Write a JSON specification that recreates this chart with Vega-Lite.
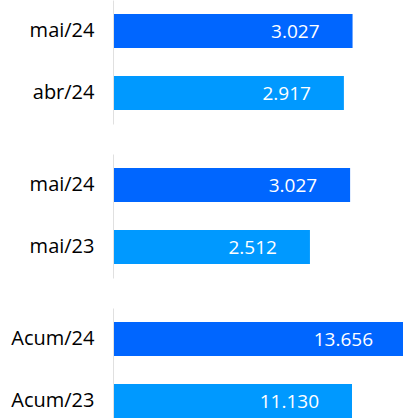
{
  "$schema": "https://vega.github.io/schema/vega-lite/v6.json",
  "padding": {"left": 10, "top": 0, "right": 0, "bottom": 0},
  "spacing": 30,
  "config": {
    "view": {"stroke": null},
    "font": "Open Sans",
    "locale": {"number": {"decimal": ",", "thousands": ".", "grouping": [3], "currency": ["R$", ""]}},
    "axisY": {"domainColor": "#e0e0e0", "domainWidth": 1, "ticks": false, "grid": false, "labelFontSize": 20, "labelColor": "#000000", "labelFont": "Open Sans", "labelPadding": 19, "offset": 1, "title": null}
  },
  "datasets": {
    "d": [
      {"grupo": "mes", "periodo": "mai/24", "serie": "atual", "valor": 3027},
      {"grupo": "mes", "periodo": "abr/24", "serie": "anterior", "valor": 2917},
      {"grupo": "ano", "periodo": "mai/24", "serie": "atual", "valor": 3027},
      {"grupo": "ano", "periodo": "mai/23", "serie": "anterior", "valor": 2512},
      {"grupo": "acum", "periodo": "Acum/24", "serie": "atual", "valor": 13656},
      {"grupo": "acum", "periodo": "Acum/23", "serie": "anterior", "valor": 11130}
    ]
  },
  "vconcat": [
    {
      "width": 289, "height": 124,
      "data": {"name": "d"},
      "transform": [{"filter": "datum.grupo == 'mes'"}],
      "encoding": {
        "y": {"field": "periodo", "type": "nominal", "sort": null, "scale": {"paddingInner": 0.45, "paddingOuter": 0.225}},
        "x": {"field": "valor", "type": "quantitative", "axis": null, "scale": {"domain": [0, 3667]}}
      },
      "layer": [
        {"mark": {"type": "bar"}, "encoding": {"color": {"field": "serie", "type": "nominal", "legend": null, "scale": {"domain": ["atual", "anterior"], "range": ["#0066FF", "#0099FF"]}}}},
        {"mark": {"type": "text", "align": "right", "baseline": "middle", "dx": -33, "dy": 1, "color": "white", "fontSize": 19}, "encoding": {"text": {"field": "valor", "type": "quantitative", "format": ",.0f"}}}
      ]
    },
    {
      "width": 289, "height": 124,
      "data": {"name": "d"},
      "transform": [{"filter": "datum.grupo == 'ano'"}],
      "encoding": {
        "y": {"field": "periodo", "type": "nominal", "sort": null, "scale": {"paddingInner": 0.45, "paddingOuter": 0.225}},
        "x": {"field": "valor", "type": "quantitative", "axis": null, "scale": {"domain": [0, 3705]}}
      },
      "layer": [
        {"mark": {"type": "bar"}, "encoding": {"color": {"field": "serie", "type": "nominal", "legend": null, "scale": {"domain": ["atual", "anterior"], "range": ["#0066FF", "#0099FF"]}}}},
        {"mark": {"type": "text", "align": "right", "baseline": "middle", "dx": -33, "dy": 1, "color": "white", "fontSize": 19}, "encoding": {"text": {"field": "valor", "type": "quantitative", "format": ",.0f"}}}
      ]
    },
    {
      "width": 289, "height": 124,
      "data": {"name": "d"},
      "transform": [{"filter": "datum.grupo == 'acum'"}],
      "encoding": {
        "y": {"field": "periodo", "type": "nominal", "sort": null, "scale": {"paddingInner": 0.45, "paddingOuter": 0.225}},
        "x": {"field": "valor", "type": "quantitative", "axis": null, "scale": {"domain": [0, 13515]}}
      },
      "layer": [
        {"mark": {"type": "bar"}, "encoding": {"color": {"field": "serie", "type": "nominal", "legend": null, "scale": {"domain": ["atual", "anterior"], "range": ["#0066FF", "#0099FF"]}}}},
        {"mark": {"type": "text", "align": "right", "baseline": "middle", "dx": -33, "dy": 1, "color": "white", "fontSize": 19}, "encoding": {"text": {"field": "valor", "type": "quantitative", "format": ",.0f"}}}
      ]
    }
  ],
  "resolve": {"scale": {"x": "independent", "y": "independent"}}
}
